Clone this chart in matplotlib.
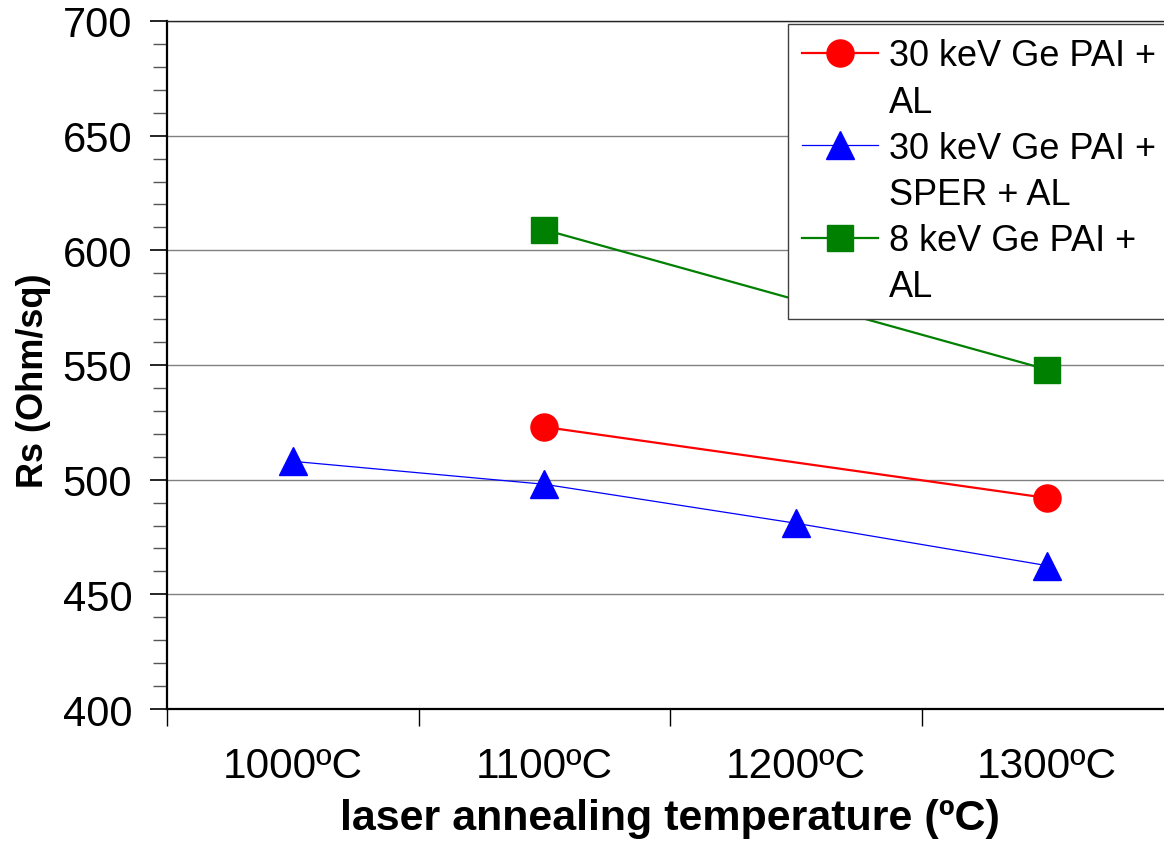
import numpy as np
import matplotlib
matplotlib.use("Agg")
import matplotlib.pyplot as plt
from matplotlib.lines import Line2D
from matplotlib.ticker import MultipleLocator

plt.rcParams['font.family'] = ['Liberation Sans', 'DejaVu Sans']

# ─── data ──────────────────────────────────────────────────────────────────
temps = ['1000ºC', '1100ºC', '1200ºC', '1300ºC']

red_temps = ['1100ºC', '1300ºC']
red_rs = [523, 492]

blue_temps = ['1000ºC', '1100ºC', '1200ºC', '1300ºC']
blue_rs = [508, 498, 481, 462.5]

green_temps = ['1100ºC', '1300ºC']
green_rs = [609, 548]

labels = ['30 keV Ge PAI +\nAL', '30 keV Ge PAI +\nSPER + AL', '8 keV Ge PAI +\nAL']


def pos(names):
    return [temps.index(n) for n in names]


# ─── figure ────────────────────────────────────────────────────────────────
fig = plt.figure(figsize=(11.64, 8.45), dpi=100)
ax = fig.add_axes([167 / 1164, 1 - 710 / 845, 1006 / 1164, 688 / 845])

ax.plot(pos(red_temps), red_rs, color='#ff0000', lw=1.6, marker='o', ms=19.5,
        zorder=3)
ax.plot(pos(blue_temps), blue_rs, color='#0000ff', lw=0.9, marker='^', ms=20,
        zorder=3)
ax.plot(pos(green_temps), green_rs, color='#008000', lw=1.6, marker='s', ms=18.5,
        zorder=3)

ax.set_xlim(-0.5, len(temps) - 0.5)
ax.set_ylim(400, 700)

# category axis: ticks between the categories, labels at the centres
ax.set_xticks(np.arange(len(temps) + 1) - 0.5)
ax.set_xticklabels([])
ax.set_xticks(np.arange(len(temps)), minor=True)
ax.set_xticklabels(temps, minor=True, fontsize=30.5)
ax.tick_params(axis='x', which='major', direction='out', length=12, width=1,
               color='black')
ax.tick_params(axis='x', which='minor', length=0, pad=27)

ax.yaxis.set_major_locator(MultipleLocator(50))
ax.yaxis.set_minor_locator(MultipleLocator(10))
ax.tick_params(axis='y', which='major', direction='out', length=12, width=1.2,
               color='black', labelsize=30, pad=13)
ax.tick_params(axis='y', which='minor', direction='out', length=10, width=1,
               color='#555555')
ax.yaxis.grid(True, which='major', color='#808080', lw=1)
ax.set_axisbelow(True)

for side in ['left', 'bottom']:
    ax.spines[side].set_linewidth(1.6)
    ax.spines[side].set_color('black')
ax.spines['top'].set_linewidth(1)
ax.spines['top'].set_color('#222222')
ax.spines['right'].set_visible(False)

ax.set_xlabel('laser annealing temperature (ºC)', fontsize=31,
              fontweight='bold', labelpad=8)
ax.set_ylabel('Rs (Ohm/sq)', fontsize=26, fontweight='bold')
ax.yaxis.set_label_coords(-0.115, 0.478)

# legend: one row per text line so the marker sits on the first line
lines = ax.get_lines()
blank = Line2D([], [], linestyle='none', marker='none')
handles, texts = [], []
for ln, lab in zip(lines, labels):
    first, second = lab.split('\n')
    handles += [ln, blank]
    texts += [first, second]

leg = ax.legend(handles, texts, loc='upper left',
                bbox_to_anchor=(788 / 1164, 1 - 25 / 845),
                bbox_transform=fig.transFigure, borderaxespad=0,
                borderpad=0.4, handlelength=2.1, handletextpad=0.3,
                labelspacing=0.31, fontsize=26, fancybox=False,
                framealpha=1, edgecolor='#404040')
leg.get_frame().set_linewidth(1)

fig.savefig('out.png', dpi=100)
